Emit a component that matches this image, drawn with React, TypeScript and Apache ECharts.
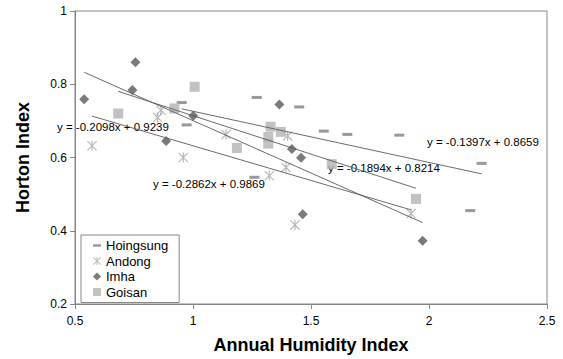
import React, { useEffect, useRef } from "react";
import * as echarts from "echarts";

// ---- data ----
const hoingsungX = [0.952, 0.973, 1.27, 1.45, 1.554, 1.654, 1.874, 2.223, 2.175, 1.26];
const hoingsungY = [0.75, 0.689, 0.764, 0.738, 0.672, 0.663, 0.661, 0.584, 0.455, 0.546];

const andongX = [0.572, 0.864, 0.85, 0.959, 1.14, 1.401, 1.394, 1.323, 1.432, 1.924];
const andongY = [0.632, 0.729, 0.709, 0.6, 0.663, 0.659, 0.573, 0.55, 0.416, 0.447];

const imhaX = [0.539, 0.756, 0.743, 0.886, 1.001, 1.366, 1.419, 1.458, 1.465, 1.973];
const imhaY = [0.759, 0.86, 0.784, 0.645, 0.714, 0.745, 0.623, 0.599, 0.445, 0.373];

const goisanX = [0.683, 1.007, 0.921, 1.186, 1.329, 1.319, 1.319, 1.372, 1.588, 1.945];
const goisanY = [0.72, 0.793, 0.734, 0.626, 0.684, 0.656, 0.638, 0.67, 0.582, 0.487];

const seriesNames = ["Hoingsung", "Andong", "Imha", "Goisan"];
// linear trend lines y = slope * x + intercept
const trendSlopes = [-0.1397, -0.1894, -0.2862, -0.2098];
const trendIntercepts = [0.8659, 0.8214, 0.9869, 0.9239];

const xTicks = [0.5, 1, 1.5, 2, 2.5];
const yTicks = [0.2, 0.4, 0.6, 0.8, 1];

const FONT = "Liberation Sans";

const dashPath = "path://M0,0h10v3h-10z";
const starPath =
  "path://M4.4,0h1.2v10h-1.2zM0,0.8L0.8,0L10,9.2L9.2,10zM0.8,10L0,9.2L9.2,0L10,0.8z";

function pairs(xs: number[], ys: number[]) {
  return xs.map((x, i) => [x, ys[i]]);
}

function trend(xs: number[], k: number) {
  const lo = Math.min(...xs);
  const hi = Math.max(...xs);
  const a = trendSlopes[k];
  const b = trendIntercepts[k];
  return [
    [lo, a * lo + b],
    [hi, a * hi + b],
  ];
}

function label(k: number) {
  return `y = ${trendSlopes[k].toFixed(4)}x + ${trendIntercepts[k].toFixed(4)}`;
}

export default function App() {
  const ref = useRef<HTMLDivElement>(null);

  useEffect(() => {
    const chart = echarts.init(ref.current!, null, { renderer: "svg" });
    const xsList = [hoingsungX, andongX, imhaX, goisanX];
    const trendSeries = xsList.map((xs, k) => ({
      name: seriesNames[k] + " trend",
      type: "line",
      data: trend(xs, k),
      symbol: "none",
      silent: true,
      z: 3,
      lineStyle: { color: "#5a5a5a", width: 0.9 },
    }));

    const labelStyle = { fontFamily: FONT, fontSize: 11.5, fill: "#000" };

    const option: any = {
      animation: false,
      backgroundColor: "#fff",
      textStyle: { fontFamily: FONT },
      grid: {
        left: 75,
        right: 16,
        top: 11,
        bottom: 55,
        show: true,
        borderColor: "#868686",
        borderWidth: 1,
      },
      xAxis: {
        type: "value",
        min: xTicks[0],
        max: xTicks[xTicks.length - 1],
        interval: 0.5,
        name: "Annual Humidity Index",
        nameLocation: "middle",
        nameGap: 32,
        nameTextStyle: { fontFamily: FONT, fontSize: 18, fontWeight: "bold", color: "#000" },
        axisLine: { lineStyle: { color: "#868686" } },
        axisTick: { show: true, length: 5, lineStyle: { color: "#868686" } },
        axisLabel: { fontFamily: FONT, fontSize: 12, color: "#000", margin: 11 },
        splitLine: { show: false },
      },
      yAxis: {
        type: "value",
        min: yTicks[0],
        max: yTicks[yTicks.length - 1],
        interval: 0.2,
        name: "Horton Index",
        nameLocation: "middle",
        nameGap: 43,
        nameTextStyle: { fontFamily: FONT, fontSize: 18, fontWeight: "bold", color: "#000" },
        axisLine: { show: true, lineStyle: { color: "#868686" } },
        axisTick: { show: true, length: 5, lineStyle: { color: "#868686" } },
        axisLabel: { fontFamily: FONT, fontSize: 12, color: "#000", margin: 8 },
        splitLine: { show: false },
      },
      legend: {
        left: 81,
        top: 235,
        orient: "vertical",
        backgroundColor: "#fff",
        borderColor: "#868686",
        borderWidth: 1,
        padding: [3, 11, 3, 12],
        itemWidth: 8,
        itemHeight: 8,
        itemGap: 0.5,
        textStyle: { fontFamily: FONT, fontSize: 13, color: "#000", lineHeight: 15 },
        data: [
          { name: "Hoingsung", icon: dashPath },
          { name: "Andong", icon: starPath },
          { name: "Imha", icon: "diamond" },
          { name: "Goisan", icon: "rect" },
        ],
      },
      graphic: [
        { type: "text", left: 57, top: 121, style: { ...labelStyle, text: label(3) } },
        { type: "text", left: 153, top: 178, style: { ...labelStyle, text: label(2) } },
        { type: "text", left: 328, top: 162, style: { ...labelStyle, text: label(1) } },
        { type: "text", left: 427, top: 136, style: { ...labelStyle, text: label(0) } },
      ],
      series: [
        {
          name: "Hoingsung",
          type: "scatter",
          data: pairs(hoingsungX, hoingsungY),
          symbol: "rect",
          symbolSize: [10, 3],
          itemStyle: { color: "#7f7f7f" },
          z: 2,
        },
        {
          name: "Andong",
          type: "scatter",
          data: pairs(andongX, andongY),
          symbol: starPath,
          symbolSize: 10,
          itemStyle: { color: "#a6a6a6" },
          z: 2,
        },
        {
          name: "Imha",
          type: "scatter",
          data: pairs(imhaX, imhaY),
          symbol: "diamond",
          symbolSize: 10,
          itemStyle: { color: "#595959" },
          z: 2,
        },
        {
          name: "Goisan",
          type: "scatter",
          data: pairs(goisanX, goisanY),
          symbol: "rect",
          symbolSize: 10,
          itemStyle: { color: "#b3b3b3" },
          z: 2,
        },
        ...trendSeries,
      ],
    };

    chart.setOption(option);
    return () => chart.dispose();
  }, []);

  return (
    <div
      ref={ref}
      style={{ position: "fixed", left: 0, top: 0, width: 563, height: 359 }}
    />
  );
}
